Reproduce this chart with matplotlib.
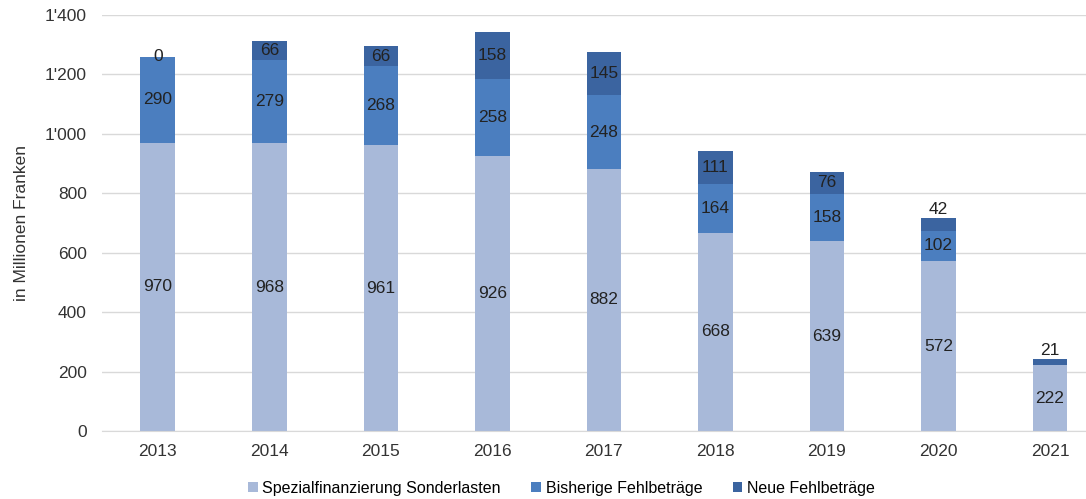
import matplotlib

matplotlib.use("Agg")
import matplotlib.pyplot as plt
import numpy as np
from matplotlib.ticker import FuncFormatter

plt.rcParams["font.family"] = ["Liberation Sans", "DejaVu Sans"]

years = ["2013", "2014", "2015", "2016", "2017", "2018", "2019", "2020", "2021"]
sonderlasten = [970, 968, 961, 926, 882, 668, 639, 572, 222]
bisherige = [290, 279, 268, 258, 248, 164, 158, 102, 0]
neue = [0, 66, 66, 158, 145, 111, 76, 42, 21]
series_names = ["Spezialfinanzierung Sonderlasten", "Bisherige Fehlbeträge",
                "Neue Fehlbeträge"]
colors = ["#A8B9D9", "#4B7EBF", "#3B64A0"]

FS = 12.5

fig = plt.figure(figsize=(10.86, 4.99), dpi=100)
ax = fig.add_axes([102 / 1086, 1 - 431 / 499, 1 - 102 / 1086, (431 - 15) / 499])

x = np.arange(len(years))
width = 0.31
bottom = np.zeros(len(years))
for vals, name, col in zip([sonderlasten, bisherige, neue], series_names, colors):
    vals = np.array(vals, dtype=float)
    ax.bar(x, vals, width, bottom=bottom, color=col, label=name, zorder=2)
    for i, v in enumerate(vals):
        if name == "Bisherige Fehlbeträge" and v == 0:
            continue
        if name == "Neue Fehlbeträge" and 0 < v < 50:
            ax.text(x[i], bottom[i] + v + 3, f"{int(v)}", ha="center", va="bottom",
                    fontsize=FS, color="#222222")
        else:
            ax.text(x[i], bottom[i] + v / 2, f"{int(v)}", ha="center", va="center",
                    fontsize=FS, color="#222222")
    bottom += vals

ax.set_xlim(-0.5, (1086 - 158) / 111.5)
ax.set_ylim(0, 1400)
ax.set_yticks(range(0, 1401, 200))
ax.yaxis.set_major_formatter(FuncFormatter(lambda v, p: f"{int(v):,}".replace(",", "'")))
ax.set_xticks(x)
ax.set_xticklabels(years)
ax.grid(axis="y", color="#D9D9D9", lw=1, zorder=0)
for s in ["top", "right", "left"]:
    ax.spines[s].set_visible(False)
ax.spines["bottom"].set_color("#D9D9D9")
ax.tick_params(axis="both", length=0, labelsize=FS, colors="#333333", pad=9)
ax.tick_params(axis="y", pad=11)
ax.set_ylabel("in Millionen Franken", fontsize=FS, color="#333333", labelpad=11)

fig.legend(loc="center", bbox_to_anchor=(0.517, 11 / 499), ncol=3, frameon=False,
           fontsize=11.5, handlelength=0.6, handleheight=0.6, handletextpad=0.3,
           columnspacing=1.9)

fig.savefig("out.png", dpi=100)
